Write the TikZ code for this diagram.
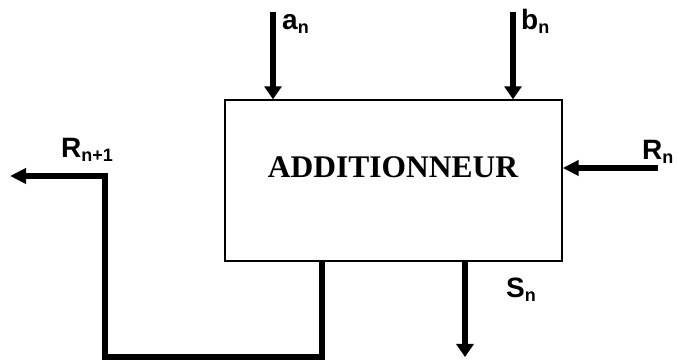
\documentclass[tikz,border=0pt]{standalone}
\usepackage{fontspec}
\setmainfont{Liberation Serif}
\setsansfont{Liberation Sans}
\usetikzlibrary{arrows.meta}
\newcommand{\lo}[1]{\raisebox{-3.5pt}{\fontsize{18}{18}\selectfont #1}}
\tikzset{ blk/.style = { draw
                         , line width   = 1.4pt
                         , inner sep    = 0pt
                         , minimum width  = 337pt
                         , minimum height = 161pt
                         },
            sig/.style = { line width = 5.5pt
                         , -{Triangle[length=13pt, width=17pt]}
                         },
            hsig/.style = { line width = 5.5pt
                          , line join  = miter
                          , -{Triangle[length=16pt, width=15pt]}
                          },
            lbl/.style = { inner sep = 0pt
                         , anchor = base west
                         , font = \sffamily\bfseries\fontsize{28}{28}\selectfont
                         }
          }

\begin{document}
\begin{tikzpicture}[x=1pt, y=1pt]
    \useasboundingbox (0,0) rectangle (678,363);
    \node[blk] (add) at (393.5,182.5) {};
    \node[inner sep=0pt, anchor=base, font=\bfseries\fontsize{31.5}{31.5}\selectfont]
      (title) at (393,185) {ADDITIONNEUR};
    % inputs
    \coordinate (a0) at (273,351);
    \coordinate (b0) at (513,351);
    \coordinate (r0) at (658,195);
    \coordinate (a1) at (a0 |- add.north);
    \coordinate (b1) at (b0 |- add.north);
    \coordinate (r1) at (r0 -| add.east);
    \draw[sig] (a0) -- (a1);
    \draw[sig] (b0) -- (b1);
    \draw[hsig] (r0) -- (r1);
    % outputs
    \coordinate (s1) at (465,6);
    \coordinate (s0) at (s1 |- add.south);
    \draw[sig] (s0) -- (s1);
    \coordinate (c0) at (322,102);
    \coordinate (c1) at (322,6);
    \coordinate (c2) at (105,6);
    \coordinate (c3) at (105,187);
    \coordinate (c4) at (10,187);
    \draw[hsig] (c0) -- (c1) -- (c2) -- (c3) -- (c4);
    % labels
    \node[lbl] (an) at (282,333) {a\lo{n}};
    \node[lbl] (bn) at (521,333) {b\lo{n}};
    \node[lbl] (rn) at (642,203) {R\lo{n}};
    \node[lbl] (rn1) at (61,205) {R\lo{n+1}};
    \node[lbl] (sn) at (506,65) {S\lo{n}};
\end{tikzpicture}
\end{document}
